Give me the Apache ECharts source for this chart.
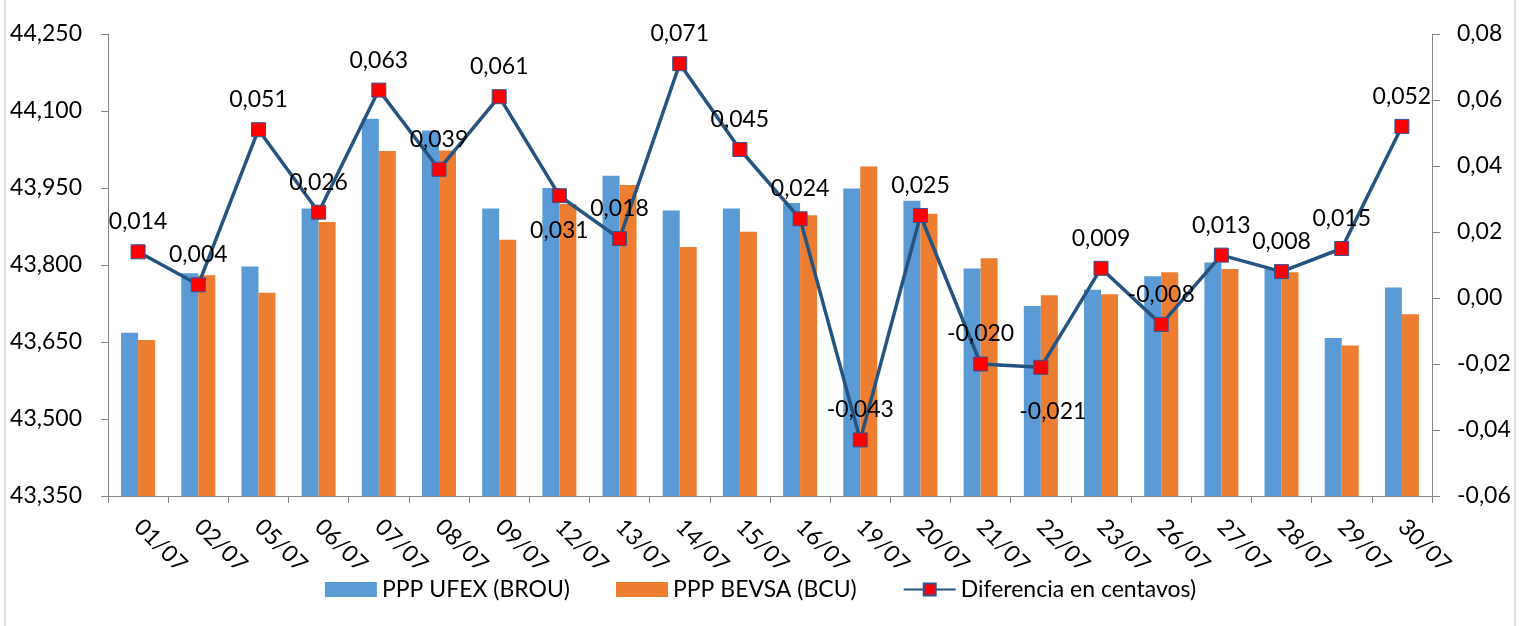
<!DOCTYPE html>
<html>
<head>
<meta charset="utf-8">
<script src="https://cdn.jsdelivr.net/npm/echarts@6/dist/echarts.min.js"></script>
<style>
  html, body { margin: 0; padding: 0; background: #fff; }
  #chart { width: 1521px; height: 626px; }
</style>
</head>
<body>
<div id="chart"></div>
<script>
// fechas
var categories = ['01/07', '02/07', '05/07', '06/07', '07/07', '08/07', '09/07', '12/07', '13/07', '14/07', '15/07',
  '16/07', '19/07', '20/07', '21/07', '22/07', '23/07', '26/07', '27/07', '28/07', '29/07', '30/07']
// PPP UFEX (BROU)
var brouData = [43.668, 43.784, 43.797, 43.910, 44.085, 44.062, 43.910, 43.950, 43.974, 43.906, 43.910,
  43.921, 43.949, 43.925, 43.793, 43.720, 43.752, 43.778, 43.805, 43.794, 43.658, 43.756]
// PPP BEVSA (BCU)
var bcuData = [43.654, 43.780, 43.746, 43.884, 44.022, 44.023, 43.849, 43.919, 43.956, 43.835, 43.865,
  43.897, 43.992, 43.900, 43.813, 43.741, 43.743, 43.786, 43.792, 43.786, 43.643, 43.704]
// Diferencia en centavos
var diffData = [0.014, 0.004, 0.051, 0.026, 0.063, 0.039, 0.061, 0.031, 0.018, 0.071, 0.045,
  0.024, -0.043, 0.025, -0.020, -0.021, 0.009, -0.008, 0.013, 0.008, 0.015, 0.052]

var fontName = 'Lato'
var txt = '#000'
var axisGray = '#868686'

// comma as decimal separator
function fmt (v, d) {
  return v.toFixed(d).replace('.', ',')
}

// etiquetas que van por debajo del punto: [distancia, desplazamiento x]
var below = { 7: [16, 0], 15: [25, 12] }
var lineData = diffData.map(function (v, i) {
  if (below[i]) {
    return { value: v, label: { position: 'bottom', distance: below[i][0], offset: [below[i][1], 0] } }
  }
  return v
})

var myChart = echarts.init(document.getElementById('chart'))
var option = {
  animation: false,
  textStyle: { fontFamily: fontName },
  grid: { left: 108, right: 89, top: 34, bottom: 130 },
  legend: {
    bottom: 20,
    left: 'center',
    itemWidth: 52,
    itemHeight: 15,
    itemGap: 46,
    textStyle: { fontSize: 23, color: txt, fontFamily: fontName },
    data: [
      { name: 'PPP UFEX (BROU)', icon: 'rect' },
      { name: 'PPP BEVSA (BCU)', icon: 'rect' },
      { name: 'Diferencia en centavos)' }
    ]
  },
  graphic: [{
    type: 'rect',
    shape: { x: 5, y: -2, width: 1510, height: 640 },
    style: { fill: 'none', stroke: '#bfbfbf', lineWidth: 1 },
    silent: true
  }],
  xAxis: {
    type: 'category',
    data: categories,
    axisLine: { onZero: false, lineStyle: { color: axisGray } },
    axisTick: { show: true, length: 7, lineStyle: { color: axisGray } },
    axisLabel: { rotate: -45, margin: 27, fontSize: 23, color: txt, interval: 0 }
  },
  yAxis: [{
    type: 'value',
    min: 43.35,
    max: 44.25,
    interval: 0.15,
    splitLine: { show: false },
    axisLine: { show: true, lineStyle: { color: axisGray } },
    axisTick: { show: true, length: 7, lineStyle: { color: axisGray } },
    axisLabel: {
      margin: 26, fontSize: 23, color: txt,
      formatter: function (v) { return fmt(v, 3) }
    }
  }, {
    type: 'value',
    min: -0.06,
    max: 0.08,
    interval: 0.02,
    splitLine: { show: false },
    axisLine: { show: true, lineStyle: { color: axisGray } },
    axisTick: { show: true, length: 8, lineStyle: { color: axisGray } },
    axisLabel: {
      margin: 25, fontSize: 23, color: txt,
      formatter: function (v) { return fmt(v, 2) }
    }
  }],
  series: [{
    name: 'PPP UFEX (BROU)',
    type: 'bar',
    yAxisIndex: 0,
    barWidth: 17,
    barGap: '0%',
    itemStyle: { color: '#5B9BD5' },
    data: brouData
  }, {
    name: 'PPP BEVSA (BCU)',
    type: 'bar',
    yAxisIndex: 0,
    barWidth: 17,
    barGap: '0%',
    itemStyle: { color: '#ED7D31' },
    data: bcuData
  }, {
    name: 'Diferencia en centavos)',
    type: 'line',
    yAxisIndex: 1,
    symbol: 'rect',
    symbolSize: 14,
    lineStyle: { color: '#24547F', width: 3.5 },
    itemStyle: { color: '#FF0000', borderColor: '#2F5597', borderWidth: 1 },
    label: {
      show: true,
      position: 'top',
      distance: 11,
      fontSize: 23,
      color: txt,
      formatter: function (p) { return fmt(p.value, 3) }
    },
    data: lineData,
    z: 5
  }]
}
myChart.setOption(option, true)
window.addEventListener('resize', function () {
  myChart.resize()
})
</script>
</body>
</html>
